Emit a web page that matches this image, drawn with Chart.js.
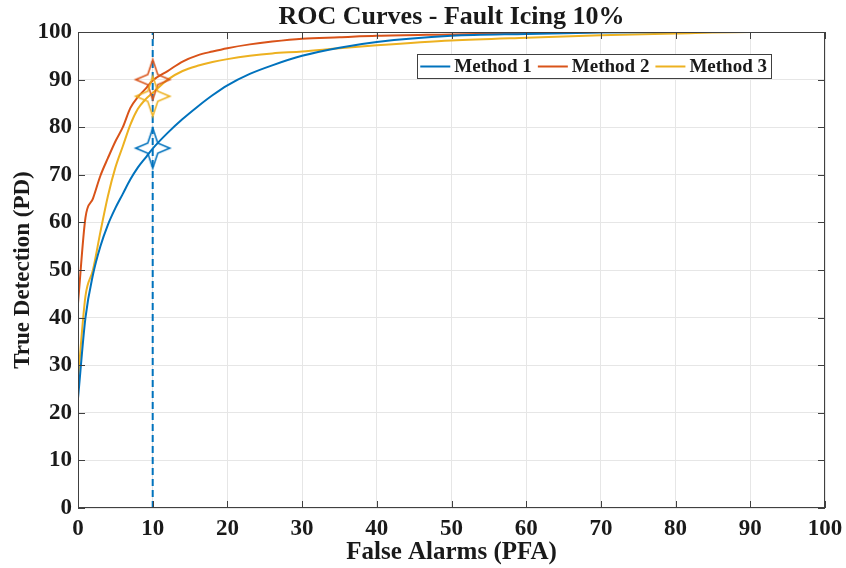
<!DOCTYPE html>
<html>
<head>
<meta charset="utf-8">
<script src="https://cdn.jsdelivr.net/npm/chart.js@4"></script>
<style>
  html, body { margin: 0; padding: 0; background: #fff; overflow: hidden; }
  #wrap { width: 846px; height: 568px; }
</style>
</head>
<body>
<div id="wrap"><canvas id="rocChart"></canvas></div>
<script>
// ===== Data =====
const pfa = [0, 1, 2, 3, 4, 5, 6, 7, 8, 9, 10, 12, 14, 16, 18, 20, 23, 26, 30, 35, 40, 50, 60, 70, 80, 90, 100];
const pdMethod1 = [23, 40, 49, 55, 59.5, 63, 66, 69, 71.5, 73.5, 75.5, 78.8, 81.7, 84.3, 86.7, 88.8, 91.2, 93, 95, 96.7, 97.9, 99.2, 99.6, 99.9, 100, 100, 100];
const pdMethod2 = [43, 61, 65, 69.8, 73.5, 77, 80, 84, 86.3, 88, 89.8, 91.8, 93.8, 95.1, 95.9, 96.6, 97.4, 98, 98.6, 98.9, 99.2, 99.5, 99.8, 100, 100, 100, 100];
const pdMethod3 = [27, 44.5, 50, 58, 65.5, 71.5, 76, 80.5, 83.8, 85.8, 87.2, 90, 91.8, 92.9, 93.7, 94.3, 95, 95.5, 95.9, 96.6, 97.2, 98.2, 98.8, 99.3, 99.7, 100, 100];
const methodNames = ["Method 1", "Method 2", "Method 3"];
const methodColors = ["#0072BD", "#D95319", "#EDB120"];
const operatingPfa = 10;
const operatingPd = [75.6, 90, 86.5];
const axisTicks = [0, 10, 20, 30, 40, 50, 60, 70, 80, 90, 100];

const FONT = "'Liberation Serif', 'Times New Roman', serif";
const INK = "#1a1a1a";

// ===== Helpers =====
function pairs(xs, ys) {
    return xs.map((v, i) => ({ x: v, y: ys[i] }));
}

// hollow four-pointed star used for the operating points
function makeStar(color) {
    const c = document.createElement("canvas");
    c.width = 40;
    c.height = 46;
    const g = c.getContext("2d");
    const cx = 20, cy = 23, rx = 17, ry = 20, r = 5;
    g.beginPath();
    g.moveTo(cx, cy - ry);
    g.lineTo(cx + r, cy - r);
    g.lineTo(cx + rx, cy);
    g.lineTo(cx + r, cy + r);
    g.lineTo(cx, cy + ry);
    g.lineTo(cx - r, cy + r);
    g.lineTo(cx - rx, cy);
    g.lineTo(cx - r, cy - r);
    g.closePath();
    g.strokeStyle = color;
    g.lineWidth = 1.6;
    g.lineJoin = "miter";
    g.stroke();
    return c;
}

// ===== Plugins =====
const plotTitle = {
    id: "plotTitle",
    afterDraw(chart) {
        const { ctx, chartArea: a } = chart;
        ctx.save();
        ctx.font = "bold 26px " + FONT;
        ctx.fillStyle = INK;
        ctx.textAlign = "center";
        ctx.textBaseline = "middle";
        ctx.fillText("ROC Curves - Fault Icing 10%", (a.left + a.right) / 2, 17);
        ctx.restore();
    },
};

// box around the axes with inward tick marks on all four sides
const axesBox = {
    id: "axesBox",
    afterDatasetsDraw(chart) {
        const { ctx, chartArea: a, scales } = chart;
        const len = 7;
        ctx.save();
        ctx.strokeStyle = "#404040";
        ctx.lineWidth = 1;
        ctx.beginPath();
        axisTicks.forEach((v) => {
            const px = Math.round(scales.x.getPixelForValue(v)) + 0.5;
            ctx.moveTo(px, a.bottom); ctx.lineTo(px, a.bottom - len);
            ctx.moveTo(px, a.top); ctx.lineTo(px, a.top + len);
            const py = Math.round(scales.y.getPixelForValue(v)) + 0.5;
            ctx.moveTo(a.left, py); ctx.lineTo(a.left + len, py);
            ctx.moveTo(a.right, py); ctx.lineTo(a.right - len, py);
        });
        ctx.stroke();
        ctx.strokeRect(Math.round(a.left) + 0.5, Math.round(a.top) + 0.5,
            Math.round(a.width) - 1, Math.round(a.height) - 1);
        ctx.restore();
    },
};

// horizontal legend inside the plot, top right
const boxLegend = {
    id: "boxLegend",
    afterDraw(chart) {
        const { ctx, chartArea: a } = chart;
        ctx.save();
        ctx.font = "bold 19px " + FONT;
        const lineLen = 30, gap = 4, spacing = 6, padL = 3, padR = 4;
        const widths = methodNames.map((n) => ctx.measureText(n).width);
        const boxW = padL + widths.reduce((s, w) => s + lineLen + gap + w, 0) + spacing * 2 + padR;
        const boxH = 24;
        const right = a.right - 54;
        const left = right - boxW;
        const top = a.top + 22;
        ctx.fillStyle = "#fff";
        ctx.fillRect(left, top, boxW, boxH);
        ctx.strokeStyle = "#404040";
        ctx.lineWidth = 1;
        ctx.strokeRect(Math.round(left) + 0.5, top + 0.5, Math.round(boxW), boxH);
        let x = left + padL;
        const cy = top + boxH / 2 + 0.5;
        methodNames.forEach((n, i) => {
            ctx.strokeStyle = methodColors[i];
            ctx.lineWidth = 2;
            ctx.beginPath();
            ctx.moveTo(x, cy);
            ctx.lineTo(x + lineLen, cy);
            ctx.stroke();
            x += lineLen + gap;
            ctx.fillStyle = INK;
            ctx.textBaseline = "middle";
            ctx.fillText(n, x, cy + 1);
            x += widths[i] + spacing;
        });
        ctx.restore();
    },
};

// ===== ROC chart =====
const curveSets = methodNames.map((name, i) => ({
    label: name,
    data: pairs(pfa, [pdMethod1, pdMethod2, pdMethod3][i]),
    borderColor: methodColors[i],
    borderWidth: 2,
    pointRadius: 0,
    cubicInterpolationMode: "monotone",
    fill: false,
    order: 10,
}));

// blue on top, then yellow, then red
const markerOrder = [1, 3, 2];
const markerSets = methodNames.map((name, i) => ({
    label: name + " operating point",
    data: [{ x: operatingPfa, y: operatingPd[i] }],
    showLine: false,
    pointStyle: makeStar(methodColors[i]),
    pointRadius: 20,
    order: markerOrder[i],
}));

const thresholdSet = {
    label: "PFA threshold",
    data: [{ x: operatingPfa, y: 0 }, { x: operatingPfa, y: 100 }],
    borderColor: "#0072BD",
    borderWidth: 2,
    borderDash: [7, 4],
    pointRadius: 0,
    order: 5,
};

new Chart(document.getElementById("rocChart"), {
    type: "line",
    data: { datasets: [thresholdSet, ...curveSets, ...markerSets] },
    plugins: [axesBox, plotTitle, boxLegend],
    options: {
        responsive: true,
        maintainAspectRatio: false,
        animation: false,
        layout: { padding: { top: 32, right: 20, left: 0, bottom: 0 } },
        plugins: {
            legend: { display: false },
            title: { display: false },
            tooltip: { enabled: false },
        },
        scales: {
            x: {
                type: "linear",
                min: 0,
                max: 100,
                afterFit: (s) => {
                    s.height = 60;
                    s.paddingLeft = 0;
                    s.paddingRight = 0;
                },
                ticks: {
                    stepSize: 10,
                    padding: 7,
                    color: INK,
                    font: { family: FONT, size: 23, weight: "bold" },
                },
                grid: { color: "#e6e6e6", drawTicks: false },
                border: { display: false },
                title: {
                    display: true,
                    text: "False Alarms (PFA)",
                    color: INK,
                    font: { family: FONT, size: 25, weight: "bold" },
                    padding: { top: 0, bottom: 0 },
                },
            },
            y: {
                min: 0,
                max: 100,
                afterFit: (s) => { s.width = 78; },
                ticks: {
                    stepSize: 10,
                    padding: 6,
                    color: INK,
                    font: { family: FONT, size: 23, weight: "bold" },
                },
                grid: { color: "#e6e6e6", drawTicks: false },
                border: { display: false },
                title: {
                    display: true,
                    text: "True Detection (PD)",
                    color: INK,
                    font: { family: FONT, size: 23, weight: "bold" },
                    padding: { top: 9, bottom: 0 },
                },
            },
        },
    },
});
</script>
</body>
</html>
